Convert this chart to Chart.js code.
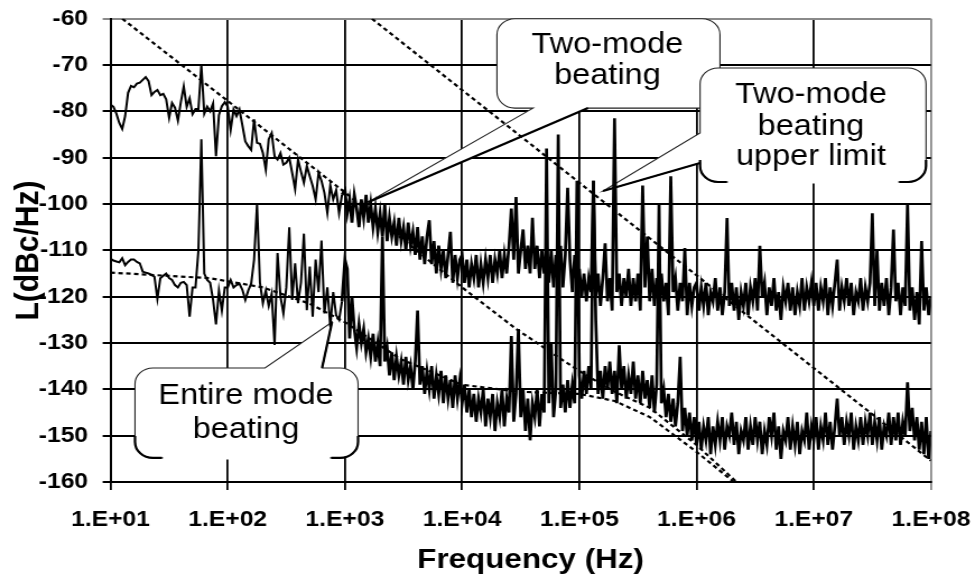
<!DOCTYPE html>
<html lang="en">
<head>
    <meta charset="UTF-8">
    <title>Phase noise - mode beating</title>
    <script src="https://cdn.jsdelivr.net/npm/chart.js"></script>
    <style>
        html, body { margin: 0; padding: 0; background: #fff; overflow: hidden; }
        /* the original picture is a little wider than it is tall in its lettering */
        #wrap { width: 870px; height: 576px; transform: scale(1.12069, 1); transform-origin: 0 0; }
    </style>
</head>
<body>
<div id="wrap">
    <canvas id="noiseChart" width="870" height="576"></canvas>
</div>

<script>
    // x axis: decades of frequency (Hz)
    const xTickValues = [1e1, 1e2, 1e3, 1e4, 1e5, 1e6, 1e7, 1e8];
    const xTickLabels = ['1.E+01', '1.E+02', '1.E+03', '1.E+04', '1.E+05', '1.E+06', '1.E+07', '1.E+08'];
    const yTickValues = [-160, -150, -140, -130, -120, -110, -100, -90, -80, -70, -60];

    const decadeStart = [1, 2, 3, 4, 5, 6, 7];
    const decadeSteps = [1 / 40, 1 / 40, 1 / 50, 1 / 50, 1 / 50, 1 / 50, 1 / 50];

    // two-mode beating, dBc/Hz
    const upperDec1 = [-78.5, -79, -80.5, -82.5, -83.8, -81, -76, -74.5, -74.8, -74,
        -73.8, -73.2, -72.6, -73.5, -76.5, -75.8, -75.4, -76.5, -76.2, -77.4,
        -81.4, -78.2, -79.2, -82, -78, -74.6, -79, -77.2, -80.6, -79.5,
        -79.5, -70, -80.5, -79, -80, -78.3, -89.7, -80.8, -78.9, -78];
    const upperDec2 = [-79, -84, -79.6, -81, -79.6, -83, -86.5, -87.5, -88.3, -81.7,
        -86.8, -87, -89, -92.6, -86, -84.7, -89.7, -90.4, -89, -91.5,
        -91.1, -90, -93.3, -96.8, -90.4, -93, -95.4, -91.8, -94, -96.1,
        -99, -93.3, -95, -97.6, -101.9, -96, -99, -97, -102, -98];
    const upperDec3 = [-97, -102, -99, -104, -98, -101, -105, -99, -103, -98,
        -104, -100, -105, -101, -106, -102, -107, -100, -108, -103,
        -107, -104, -109, -103, -108, -105, -110, -104, -109, -106,
        -111, -105, -112, -107, -113, -107, -103.5, -113, -108, -115,
        -109, -114, -110, -116, -111, -106, -117, -111, -116, -112];
    const upperDec4 = [-111, -117, -112, -118, -113, -116, -111, -118, -113, -117,
        -112, -116, -111, -117, -112, -115, -110, -116, -111, -115,
        -109, -101, -112, -98.5, -115, -110, -105.5, -114, -109, -115,
        -103, -114, -109, -116, -110, -115, -109, -117, -110, -118,
        -111, -116, -109, -118, -111, -96.5, -112, -119, -111, -118];
    const upperDec5 = [-114, -120, -115, -121, -116, -119, -95, -120, -115, -122,
        -116, -108.5, -121, -116, -123, -81.5, -119, -115, -122, -116,
        -120, -114, -122, -116, -121, -115, -123, -96, -118, -107,
        -121, -114, -122, -116, -123, -115, -121, -117, -124, -94,
        -119, -116, -123, -117, -121, -109.5, -124, -117, -122, -118];
    const upperDec6 = [-117, -123, -118, -122, -117, -124, -119, -121, -116, -123,
        -118, -124, -119, -103, -122, -117, -123, -118, -125, -119,
        -122, -117, -124, -118, -121, -116, -123, -109, -120, -117,
        -124, -118, -122, -116, -123, -119, -125, -118, -121, -117,
        -123, -118, -124, -119, -122, -116, -123, -118, -121, -117];
    const upperDec7 = [-122, -117, -123, -118, -121, -116, -124, -118, -122, -117,
        -112, -123, -118, -121, -116, -122, -117, -124, -119, -121,
        -116, -123, -118, -121, -117, -102, -122, -110, -123, -117,
        -122, -116, -124, -118, -105.5, -121, -117, -124, -118, -122,
        -100, -123, -118, -125, -119, -126, -108, -123, -118, -124,
        -120];

    // entire mode beating, dBc/Hz
    const lowerDec1 = [-111.8, -112.2, -112.4, -112.6, -111.7, -113.2, -112.5, -112, -112, -112.5,
        -112.8, -114.6, -114.8, -115, -115.3, -115.7, -120.4, -116, -115.5, -115,
        -116, -116.4, -117.5, -118, -117, -116.8, -117.5, -124.3, -118, -118,
        -110, -86, -115, -116.4, -117, -120.7, -126, -118.7, -123, -118];
    const lowerDec2 = [-118, -116.4, -118, -117.5, -117.2, -118.5, -120.7, -118.7, -117.2, -112,
        -100, -117, -121.4, -118.7, -122, -119.4, -130.4, -110.6, -120, -123.6,
        -118, -105, -120.7, -112.8, -121.4, -117, -106.4, -122.9, -113.5, -124.3,
        -112, -119, -107.9, -123.6, -118, -126.5, -119, -124, -125, -121];
    const lowerDec3 = [-112, -114, -129, -120, -127, -131, -126, -130, -127, -132,
        -129, -133, -128, -134, -130, -135, -107, -134, -131, -137,
        -132, -138, -133, -137, -134, -139, -133, -138, -135, -140,
        -134, -123, -139, -135, -141, -136, -140, -135, -142, -137,
        -141, -136, -143, -137, -142, -138, -144, -137, -142, -138];
    const lowerDec4 = [-143, -139, -145, -140, -146, -141, -147, -142, -145, -140,
        -148, -142, -146, -141, -149, -143, -146, -140, -148, -142,
        -145, -128.5, -147, -141, -127, -146, -140, -149, -142, -151,
        -143, -146, -140, -148, -141, -145, -88, -143, -130, -146,
        -140, -85, -144, -139, -145, -138, -144, -139, -143, -95];
    const lowerDec5 = [-137, -142, -136, -141, -135, -140, -95, -125, -141, -136,
        -142, -135, -140, -134, -141, -136, -143, -130.5, -140, -135,
        -142, -137, -141, -134, -142, -137, -143, -136, -142, -138,
        -144, -137, -145, -139, -100, -143, -140, -146, -141, -147,
        -142, -148, -143, -133, -149, -144, -150, -145, -151, -146];
    const lowerDec6 = [-152, -147, -153, -148, -151, -146, -154, -148, -152, -147,
        -151, -146, -153, -148, -150, -145, -152, -147, -154, -149,
        -151, -146, -153, -148, -152, -146, -151, -147, -154, -149,
        -152, -146, -150, -145, -153, -148, -155, -149, -151, -146,
        -153, -148, -152, -147, -154, -149, -151, -145, -153, -148];
    const lowerDec7 = [-151, -146, -153, -148, -151, -145, -152, -147, -153, -148,
        -142, -150, -146, -152, -147, -150, -145, -153, -148, -151,
        -146, -152, -147, -150, -145, -152, -147, -151, -146, -153,
        -148, -150, -145, -152, -146, -151, -145, -152, -147, -150,
        -138.5, -149, -144, -151, -146, -153, -147, -154, -146, -155,
        -149];

    // dotted fit lines
    const fitTwoModeFreq = [12.6, 1e3, 1e4, 2.9e4, 7e4, 1.15e5, 2e5, 4e5, 1e6, 2.3e6];
    const fitTwoModeDb = [-60, -97.5, -118, -127, -133.5, -137, -140.5, -144, -152, -160.5];
    const fitEntireFreq = [10, 70, 200, 500, 1e3, 3e3, 1e4, 3e4, 1e5, 2e5, 4e5, 1e6, 2.2e6];
    const fitEntireDb = [-114.8, -116, -118, -121.5, -125.5, -133.5, -139, -140.5, -141, -142.5, -146, -153.5, -160.5];
    const upperLimitFreq = [1.7e3, 1e8];
    const upperLimitDb = [-60, -155.4];

    function traceFrom(decades) {
        const pts = [];
        decades.forEach((vals, k) => {
            vals.forEach((v, i) => pts.push({ x: Math.pow(10, decadeStart[k] + i * decadeSteps[k]), y: v }));
        });
        return pts;
    }

    function pairs(fs, ys) {
        return fs.map((f, i) => ({ x: f, y: ys[i] }));
    }

    const FONT = "'Liberation Sans', Arial, sans-serif";

    // speech bubbles, placed in (log10 f, dBc/Hz)
    const callouts = [
        { text: ['Two-mode', 'beating'], cx: 5.240, baselines: [-67.4, -74],
          box: { l: 4.297, r: 6.200, t: -60, b: -79.3 },
          tail: { side: 'bottom', a: 4.605, b: 5.074, tipX: 3.197, tipY: -99.6 }, openBottom: false },
        { text: ['Two-mode', 'beating', 'upper limit'], cx: 6.976, baselines: [-78.3, -85.1, -91.6],
          box: { l: 6.030, r: 7.958, t: -70.65, b: -95.25 },
          tail: { side: 'left', a: -84.67, b: -91.14, tipX: 5.202, tipY: -97.19 }, openBottom: true },
        { text: ['Entire mode', 'beating'], cx: 2.156, baselines: [-143.2, -150.6],
          box: { l: 1.209, r: 3.112, t: -135.4, b: -154.8 },
          tail: { side: 'top', a: 2.318, b: 2.805, tipX: 2.890, tipY: -125.46 }, openBottom: true }
    ];

    function drawBubble(ctx, c, px, py) {
        const L = px(c.box.l), R = px(c.box.r), T = py(c.box.t), B = py(c.box.b);
        const r = 16;
        const t = c.tail;
        const tx = px(t.tipX), ty = py(t.tipY);
        let bx, by;

        ctx.beginPath();
        ctx.moveTo(L + r, T);
        if (t.side === 'top') {
            ctx.lineTo(px(t.a), T); ctx.lineTo(tx, ty); ctx.lineTo(px(t.b), T);
            bx = px(t.b); by = T;
        }
        ctx.arcTo(R, T, R, T + r, r);
        ctx.arcTo(R, B, R - r, B, r);
        if (t.side === 'bottom') {
            ctx.lineTo(px(t.b), B); ctx.lineTo(tx, ty); ctx.lineTo(px(t.a), B);
            bx = px(t.b); by = B;
        }
        ctx.arcTo(L, B, L, B - r, r);
        if (t.side === 'left') {
            ctx.lineTo(L, py(t.b)); ctx.lineTo(tx, ty); ctx.lineTo(L, py(t.a));
            bx = L; by = py(t.b);
        }
        ctx.arcTo(L, T, L + r, T, r);
        ctx.closePath();
        ctx.fillStyle = '#fff';
        ctx.fill();
        ctx.strokeStyle = '#222';
        ctx.lineWidth = 1.1;
        ctx.stroke();

        // heavier edge of the pointer
        ctx.beginPath();
        ctx.moveTo(bx, by);
        ctx.lineTo(tx, ty);
        ctx.strokeStyle = '#000';
        ctx.lineWidth = 2.2;
        ctx.stroke();

        if (c.openBottom) {
            ctx.beginPath();
            ctx.moveTo(L, B - r - 6);
            ctx.arcTo(L, B, L + r, B, r);
            ctx.lineTo(L + r + 8, B);
            ctx.moveTo(R - r - 8, B);
            ctx.arcTo(R, B, R, B - r, r);
            ctx.lineTo(R, B - r - 6);
            ctx.lineWidth = 2.2;
            ctx.stroke();
            ctx.beginPath();
            ctx.moveTo(L + r + 9, B);
            ctx.lineTo(R - r - 9, B);
            ctx.strokeStyle = '#fff';
            ctx.lineWidth = 3;
            ctx.stroke();
        }

        ctx.fillStyle = '#000';
        ctx.font = '29px ' + FONT;
        ctx.textAlign = 'center';
        ctx.textBaseline = 'alphabetic';
        c.text.forEach((s, i) => ctx.fillText(s, px(c.cx), py(c.baselines[i])));
    }

    const calloutPlugin = {
        id: 'callouts',
        beforeDatasetsDraw(chart) {
            const ctx = chart.ctx;
            const px = e => chart.scales.x.getPixelForValue(Math.pow(10, e));
            const py = v => chart.scales.y.getPixelForValue(v);
            ctx.save();
            callouts.forEach(c => drawBubble(ctx, c, px, py));
            ctx.restore();
        },
        afterDraw(chart) {
            const ctx = chart.ctx;
            ctx.save();
            ctx.fillStyle = '#000';
            ctx.font = 'bold 28px ' + FONT;
            ctx.textAlign = 'center';
            ctx.textBaseline = 'alphabetic';
            ctx.fillText('Frequency (Hz)', 473.4, 568);
            ctx.translate(25.4, 250.5);
            ctx.rotate(-Math.PI / 2);
            ctx.font = 'bold 30px ' + FONT;
            ctx.textBaseline = 'middle';
            ctx.fillText('L(dBc/Hz)', 0, 0);
            ctx.restore();
        }
    };

    // the measured traces get heavier where the sweep gets dense
    const traceWidth = ctx => (ctx.p0.parsed.x < 900 ? 2.0 : 2.7);
    const line = { borderColor: '#000', pointRadius: 0, tension: 0, fill: false };

    const noiseCtx = document.getElementById('noiseChart').getContext('2d');
    const noiseChart = new Chart(noiseCtx, {
        type: 'line',
        data: {
            datasets: [
                Object.assign({ label: 'Two-mode beating', data: traceFrom([upperDec1, upperDec2, upperDec3, upperDec4, upperDec5, upperDec6, upperDec7]), borderWidth: 2.7, segment: { borderWidth: traceWidth } }, line),
                Object.assign({ label: 'Entire mode beating', data: traceFrom([lowerDec1, lowerDec2, lowerDec3, lowerDec4, lowerDec5, lowerDec6, lowerDec7]), borderWidth: 2.7, segment: { borderWidth: traceWidth } }, line),
                Object.assign({ label: 'Two-mode fit', data: pairs(fitTwoModeFreq, fitTwoModeDb), borderWidth: 2.2, borderDash: [4, 3] }, line),
                Object.assign({ label: 'Entire mode fit', data: pairs(fitEntireFreq, fitEntireDb), borderWidth: 2.2, borderDash: [4, 3] }, line),
                Object.assign({ label: 'Two-mode beating upper limit', data: pairs(upperLimitFreq, upperLimitDb), borderWidth: 2.2, borderDash: [4, 3] }, line)
            ]
        },
        options: {
            responsive: false,
            animation: false,
            devicePixelRatio: 1,
            layout: { padding: { left: 0, right: 39.3, top: 18.7, bottom: 0 } },
            plugins: { legend: { display: false }, tooltip: { enabled: false } },
            scales: {
                x: {
                    type: 'logarithmic',
                    min: 10,
                    max: 1e8,
                    afterBuildTicks: s => { s.ticks = xTickValues.map(v => ({ value: v })); },
                    afterFit: s => { s.height = 94; s.paddingLeft = 0; s.paddingRight = 0; },
                    ticks: {
                        callback: (v, i) => xTickLabels[i],
                        autoSkip: false,
                        maxRotation: 0,
                        padding: 17,
                        color: '#000',
                        font: { family: FONT, size: 22, weight: 'bold' }
                    },
                    grid: {
                        color: c => (c.tick && c.tick.value === 1e8) ? '#8a8a8a' : '#000',
                        lineWidth: 1.8,
                        tickLength: 8
                    },
                    border: { color: '#000', width: 2 }
                },
                y: {
                    min: -160,
                    max: -60,
                    afterBuildTicks: s => { s.ticks = yTickValues.map(v => ({ value: v })); },
                    afterFit: s => { s.width = 98.6; s.paddingTop = 0; s.paddingBottom = 0; },
                    ticks: {
                        callback: v => String(v),
                        padding: 13,
                        color: '#000',
                        font: { family: FONT, size: 22, weight: 'bold' }
                    },
                    grid: {
                        color: c => (c.tick && c.tick.value === -60) ? '#8a8a8a' : '#000',
                        lineWidth: 2,
                        tickLength: 7
                    },
                    border: { color: '#000', width: 2 }
                }
            }
        },
        plugins: [calloutPlugin]
    });
</script>
</body>
</html>
